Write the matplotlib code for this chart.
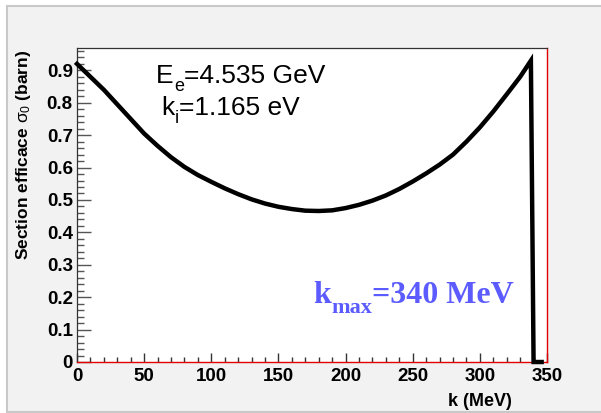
import matplotlib
matplotlib.use("Agg")
import matplotlib.pyplot as plt
from matplotlib.patches import Rectangle
from matplotlib.ticker import MultipleLocator
from matplotlib.transforms import offset_copy

# Data
k_mev = [0, 10, 20, 30, 40, 50, 60, 70, 80, 90, 100, 110, 120, 130, 140, 150,
         160, 170, 180, 190, 200, 210, 220, 230, 240, 250, 260, 270, 280, 290,
         300, 310, 320, 330, 338, 340, 346]
sigma = [0.92, 0.88, 0.84, 0.795, 0.75, 0.705, 0.667, 0.632, 0.602, 0.577,
         0.556, 0.536, 0.518, 0.502, 0.489, 0.479, 0.472, 0.467, 0.466, 0.468,
         0.475, 0.485, 0.498, 0.514, 0.534, 0.557, 0.582, 0.609, 0.640, 0.680,
         0.724, 0.773, 0.826, 0.880, 0.93, 0.0, 0.0]
x_ticks = [0, 50, 100, 150, 200, 250, 300, 350]
y_ticks = [0, 0.1, 0.2, 0.3, 0.4, 0.5, 0.6, 0.7, 0.8, 0.9]
y_tick_labels = ["0", "0.1", "0.2", "0.3", "0.4", "0.5", "0.6", "0.7", "0.8", "0.9"]

plt.rcParams["mathtext.fontset"] = "custom"
plt.rcParams["mathtext.rm"] = "Liberation Sans"
plt.rcParams["mathtext.it"] = "Liberation Sans"
plt.rcParams["mathtext.bf"] = "Liberation Sans:bold"
plt.rcParams["font.family"] = ["Liberation Sans", "DejaVu Sans"]

W, H = 601, 413
fig = plt.figure(figsize=(W / 100, H / 100), dpi=100)
fig.patch.set_facecolor("white")
fig.patches.append(Rectangle((7 / W, 1 - 412 / H), (W - 7 + 5) / W, (412 - 6) / H,
                             transform=fig.transFigure, facecolor="#f2f2f2",
                             edgecolor="#c8c8c8", linewidth=1.5, zorder=-10))

ax = fig.add_axes([77 / W, 1 - 362 / H, (547 - 77) / W, (362 - 48) / H])
ax.set_facecolor("white")
ax.plot(k_mev, sigma, color="black", lw=3.2, solid_joinstyle="miter", zorder=5, clip_on=False)

ax.set_xlim(0, 350)
ax.set_ylim(0, 0.969)

for s in ["top", "left"]:
    ax.spines[s].set_color("#333333")
    ax.spines[s].set_linewidth(0.9)
for s in ["right", "bottom"]:
    ax.spines[s].set_color("#e00000")
    ax.spines[s].set_linewidth(1.0)

ax.set_xticks(x_ticks)
ax.set_yticks(y_ticks)
ax.set_yticklabels(y_tick_labels)
ax.xaxis.set_minor_locator(MultipleLocator(10))
ax.yaxis.set_minor_locator(MultipleLocator(0.02))
ax.tick_params(axis="x", which="major", direction="in", length=6.5, width=1, color="#333333",
               top=False, pad=4, labelsize=13.5)
ax.tick_params(axis="x", which="minor", direction="in", length=3.5, width=1, color="#333333", top=False)
ax.tick_params(axis="y", which="major", direction="in", length=10, width=1, color="#555555",
               right=False, pad=3, labelsize=13.5)
ax.tick_params(axis="y", which="minor", direction="in", length=5, width=1, color="#555555", right=False)
for lab in ax.get_xticklabels() + ax.get_yticklabels():
    lab.set_fontweight("bold")

fig.text(24 / W, 1 - 50 / H, r"Section efficace $\sigma_0$ (barn)", rotation=90,
         ha="center", va="top", fontsize=12.5, fontweight="bold")
fig.text(480 / W, 1 - 401 / H, "k (MeV)", ha="center", va="center",
         fontsize=13, fontweight="bold")

renderer = fig.canvas.get_renderer()


def rich_text(x, y, pieces, **common):
    """pieces: list of (text, size, dy_points) drawn left to right in data coords."""
    trans = ax.transData
    dx = 0.0
    for txt, size, dy in pieces:
        t = ax.text(x, y, txt, fontsize=size, ha="left", va="baseline",
                    transform=offset_copy(trans, fig=fig, x=dx, y=dy, units="points"),
                    **common)
        bb = t.get_window_extent(renderer=renderer)
        dx += bb.width * 72 / fig.dpi


rich_text(59, 0.861, [("E", 19, 0), ("e", 13, -5.5), ("=4.535 GeV", 19, 0)])
rich_text(63, 0.762, [("k", 19, 0), ("i", 13, -5.5), ("=1.165 eV", 19, 0)])
rich_text(176, 0.182, [("k", 23, 0), ("max", 16, -7), ("=340 MeV", 23, 0)],
          family="Liberation Serif", fontweight="bold", color="#5b5bff")

fig.savefig("out.png", dpi=100, facecolor=fig.get_facecolor())
